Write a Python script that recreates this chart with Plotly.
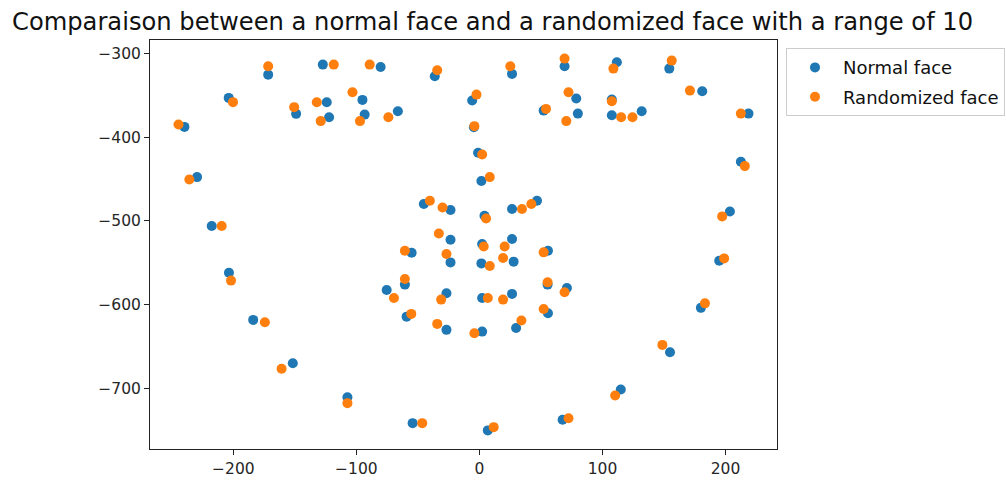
import plotly.graph_objects as go

# Normal face landmarks (68 points): jaw, eyebrows, nose, eyes, mouth
normal_x = [-239.8, -229.5, -217.6, -203.6, -183.9, -151.7, -107.3, -54.3, 6.8, 67.6, 114.9, 154.9, 180.0, 194.9, 203.6, 212.5, 218.7,
            -203.8, -171.7, -127.3, -80.3, -36.3,
            26.5, 69.2, 111.7, 154.3, 181.1,
            -5.9, -4.5, -1.1, 1.6,
            -45.2, -23.5, 4.1, 26.5, 46.8,
            -149.0, -124.1, -95.1, -66.3, -93.3, -122.2,
            52.2, 78.7, 107.6, 131.9, 107.6, 80.0,
            -75.4, -55.1, -23.5, 2.2, 26.5, 55.7, 71.1, 55.7, 29.8, 2.2, -26.8, -59.2,
            -60.6, -23.5, 1.6, 27.8, 55.4, 26.5, 2.2, -26.8]
normal_y = [-387.5, -447.6, -506.1, -561.9, -618.4, -670.2, -710.9, -741.9, -750.6, -737.9, -701.7, -657.1, -604.0, -547.6, -488.7, -429.3, -371.6,
            -352.8, -325.0, -313.0, -315.8, -326.9,
            -324.1, -315.0, -310.2, -317.8, -344.8,
            -356.0, -388.0, -418.5, -452.3,
            -479.8, -487.0, -493.8, -485.8, -475.9,
            -371.9, -358.0, -355.2, -368.7, -372.8, -375.9,
            -368.0, -353.6, -354.8, -368.7, -373.5, -371.6,
            -582.6, -538.0, -522.5, -527.6, -521.6, -535.6, -580.2, -610.5, -628.0, -632.4, -630.3, -614.5,
            -576.2, -549.6, -550.8, -548.7, -576.2, -587.3, -592.1, -586.6]

# Randomized face (range of 10)
random_x = [-244.6, -235.8, -209.5, -201.9, -174.4, -160.8, -107.3, -46.5, 11.6, 72.4, 110.3, 148.7, 183.3, 198.9, 197.3, 215.7, 212.5,
            -200.3, -171.7, -118.4, -89.2, -34.3,
            25.1, 69.2, 108.9, 156.3, 171.1,
            -2.4, -4.1, 2.2, 8.4,
            -40.3, -30.0, 5.4, 34.6, 42.2,
            -150.6, -132.2, -103.2, -74.0, -97.1, -129.0,
            54.1, 72.4, 107.6, 124.4, 115.2, 70.6,
            -69.5, -60.6, -33.0, 3.5, 20.5, 52.2, 69.2, 52.2, 34.1, -4.1, -34.3, -55.4,
            -60.6, -26.8, 8.4, 19.2, 55.4, 19.2, 6.8, -31.1]
random_y = [-384.7, -450.4, -506.1, -571.4, -621.3, -676.9, -718.0, -741.9, -746.7, -736.0, -708.8, -648.3, -598.6, -544.8, -494.6, -434.4, -371.6,
            -357.9, -315.0, -313.0, -313.0, -319.7,
            -315.0, -305.8, -317.8, -308.2, -344.1,
            -348.9, -386.6, -420.5, -447.6,
            -475.9, -483.9, -497.0, -485.8, -479.8,
            -363.9, -358.0, -346.0, -375.9, -380.6, -380.6,
            -366.0, -346.0, -356.8, -375.9, -375.9, -380.6,
            -592.1, -535.6, -515.0, -530.5, -530.5, -537.6, -585.4, -605.3, -619.2, -634.4, -623.2, -611.2,
            -569.4, -539.5, -553.9, -544.3, -573.5, -594.1, -592.1, -594.1]

series_names = ["Normal face", "Randomized face"]
title_text = "Comparaison between a normal face and a randomized face with a range of 10"


def padded(vals, frac=0.05):
    lo, hi = min(vals), max(vals)
    d = (hi - lo) * frac
    return [lo - d, hi + d]


fig = go.Figure()
fig.add_trace(go.Scatter(x=normal_x, y=normal_y, mode="markers", name=series_names[0],
                         legendgroup="a",
                         marker=dict(color="#1f77b4", size=10, line=dict(width=0))))
fig.add_trace(go.Scatter(x=random_x, y=random_y, mode="markers", name=series_names[1],
                         legendgroup="b",
                         marker=dict(color="#ff7f0e", size=10, line=dict(width=0))))

axis_common = dict(showgrid=False, zeroline=False, showline=True, linecolor="#222222", linewidth=1,
                   mirror=True, ticks="outside", ticklen=5, tickwidth=1, tickcolor="#222222",
                   tickfont=dict(family="DejaVu Sans", size=15.5, color="#262626"))

fig.update_layout(
    width=1006, height=483,
    margin=dict(l=150, r=229, t=40, b=34, autoexpand=False),
    paper_bgcolor="white", plot_bgcolor="white",
    title=dict(text=title_text, x=12 / 1006, xref="container", xanchor="left",
               y=1 - 22 / 483, yref="container", yanchor="middle",
               font=dict(family="DejaVu Sans", size=24.2, color="#111111")),
    xaxis=dict(range=padded(normal_x + random_x), tickvals=[-200, -100, 0, 100, 200], **axis_common),
    yaxis=dict(range=padded(normal_y + random_y), tickvals=[-300, -400, -500, -600, -700], **axis_common),
    legend=dict(x=(786 - 150) / 627, xanchor="left", y=0.98, yanchor="top",
                bordercolor="#cccccc", borderwidth=1, bgcolor="white",
                font=dict(family="DejaVu Sans", size=18, color="#111111"),
                traceorder="grouped", tracegroupgap=3, itemwidth=46),
    showlegend=True,
)

fig.write_html("out.html")
